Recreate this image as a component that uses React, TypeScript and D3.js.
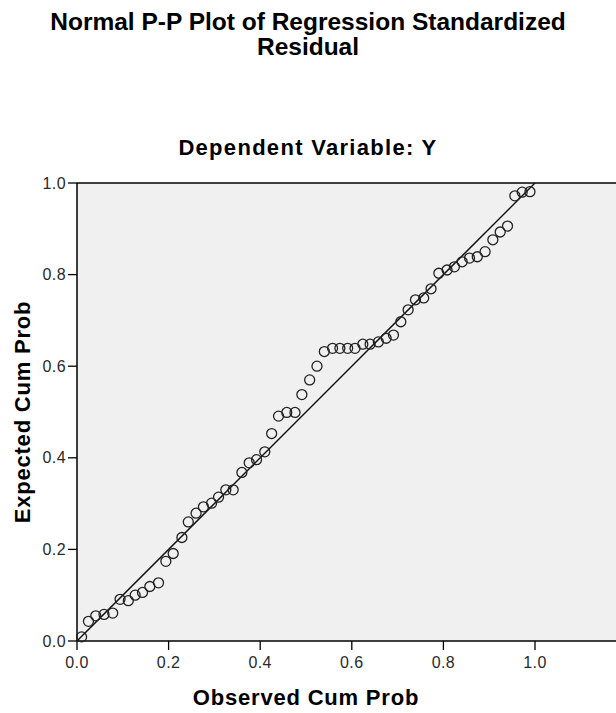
import React from "react";
import * as d3 from "d3";

const observed = [
  0.010, 0.025, 0.041, 0.059, 0.078, 0.094, 0.112, 0.127, 0.143, 0.159,
  0.178, 0.194, 0.210, 0.229, 0.243, 0.260, 0.276, 0.294, 0.309, 0.325,
  0.341, 0.360, 0.376, 0.392, 0.410, 0.425, 0.440, 0.458, 0.476, 0.491,
  0.508, 0.524, 0.540, 0.558, 0.574, 0.591, 0.607, 0.624, 0.640, 0.658,
  0.675, 0.691, 0.707, 0.723, 0.739, 0.757, 0.773, 0.790, 0.808, 0.824,
  0.841, 0.857, 0.874, 0.891, 0.908, 0.924, 0.940, 0.956, 0.972, 0.989,
];

const expected = [
  0.009, 0.043, 0.055, 0.058, 0.061, 0.091, 0.088, 0.100, 0.106, 0.119,
  0.127, 0.174, 0.191, 0.226, 0.260, 0.279, 0.293, 0.301, 0.314, 0.330,
  0.330, 0.368, 0.389, 0.396, 0.413, 0.453, 0.491, 0.499, 0.499, 0.538,
  0.570, 0.600, 0.632, 0.639, 0.639, 0.639, 0.639, 0.648, 0.648, 0.653,
  0.661, 0.668, 0.697, 0.723, 0.745, 0.749, 0.769, 0.803, 0.810, 0.817,
  0.828, 0.836, 0.839, 0.850, 0.876, 0.893, 0.906, 0.972, 0.980, 0.981,
];

const xTicks = [0, 0.2, 0.4, 0.6, 0.8, 1.0];
const yTicks = [0, 0.2, 0.4, 0.6, 0.8, 1.0];

const titleLines = ["Normal P-P Plot of Regression Standardized", "Residual"];
const subtitle = "Dependent Variable: Y";
const xTitle = "Observed Cum Prob";
const yTitle = "Expected Cum Prob";

export default function App() {
  const W = 616;
  const H = 713;
  const left = 77;
  const top = 183;
  const bottom = 641;
  const x = d3.scaleLinear().domain([0, 1]).range([left, 535]);
  const y = d3.scaleLinear().domain([0, 1]).range([bottom, top]);
  const right = x(1.25);
  const font = "'Liberation Sans', Arial, sans-serif";
  const line = d3.line<[number, number]>().x((d) => x(d[0])).y((d) => y(d[1]));

  return (
    <svg
      width={W}
      height={H}
      style={{ position: "absolute", left: 0, top: 0, background: "#fff" }}
      fontFamily={font}
    >
      <text x={308} y={30} textAnchor="middle" fontSize={24.5} fontWeight="bold" fill="#000">
        {titleLines[0]}
      </text>
      <text x={308} y={55} textAnchor="middle" fontSize={24.5} fontWeight="bold" fill="#000">
        {titleLines[1]}
      </text>
      <text x={308} y={155} textAnchor="middle" fontSize={22} fontWeight="bold" letterSpacing={1.3} fill="#000">
        {subtitle}
      </text>

      <rect x={left} y={top} width={right - left} height={bottom - top} fill="#f0f0f0" />
      <line x1={left} x2={right} y1={top} y2={top} stroke="#000" strokeWidth={1.5} />
      <line x1={left} x2={right} y1={bottom} y2={bottom} stroke="#000" strokeWidth={1.5} />
      <line x1={left} x2={left} y1={top} y2={bottom} stroke="#000" strokeWidth={1.5} />

      {yTicks.map((t) => (
        <g key={"y" + t}>
          <line x1={left - 9} x2={left} y1={y(t)} y2={y(t)} stroke="#000" strokeWidth={1.3} />
          <text x={left - 11} y={y(t) + 5.5} textAnchor="end" fontSize={16} fill="#2a2a2a" letterSpacing={0.4}>
            {d3.format(".1f")(t)}
          </text>
        </g>
      ))}
      {xTicks.map((t) => (
        <g key={"x" + t}>
          <line x1={x(t)} x2={x(t)} y1={bottom} y2={bottom + 9} stroke="#000" strokeWidth={1.3} />
          <text x={x(t)} y={bottom + 27} textAnchor="middle" fontSize={16} fill="#2a2a2a" letterSpacing={0.4}>
            {d3.format(".1f")(t)}
          </text>
        </g>
      ))}

      <path d={line([[0, 0], [1, 1]]) || ""} stroke="#111" strokeWidth={1.5} fill="none" />

      {observed.map((o, i) => (
        <circle
          key={i}
          cx={x(o)}
          cy={y(expected[i])}
          r={5}
          fill="none"
          stroke="#222"
          strokeWidth={1.3}
        />
      ))}

      <text x={306} y={705} textAnchor="middle" fontSize={22} fontWeight="bold" letterSpacing={0.8} fill="#000">
        {xTitle}
      </text>
      <text
        transform={`translate(30, ${(top + bottom) / 2}) rotate(-90)`}
        textAnchor="middle"
        fontSize={22}
        fontWeight="bold"
        letterSpacing={0.8}
        fill="#000"
      >
        {yTitle}
      </text>
    </svg>
  );
}
